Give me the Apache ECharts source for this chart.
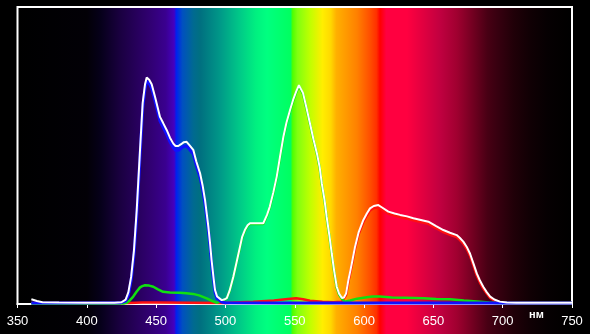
<!DOCTYPE html>
<html>
<head>
<meta charset="utf-8">
<style>
html,body{margin:0;padding:0;background:#000;}
#c{width:590px;height:334px;}
</style>
<script src="https://cdn.jsdelivr.net/npm/echarts@6/dist/echarts.min.js"></script>
</head>
<body>
<div id="c"></div>
<script>
// X axis tick labels (nm)
const xTicks = [350, 400, 450, 500, 550, 600, 650, 700, 750];
const unitLabel = 'нм';

// White (total) curve
const whiteWl = [360,364,368,380,400,420,425,428,430,432,434,436,438.4,440.3,442,443.2,445,446.8,449.2,452.8,455,457.6,460,462.4,464,466,468,470,472,474,476.8,479,481.7,483.5,485.3,487.7,489,490,491.5,492.5,494,497.3,499,501,503,505.7,508,510.5,512,514,516,517.7,522,527.3,530,532,534.5,537,539.5,541.8,544,546.6,549,551,553,556,558.5,561,563.5,566,568,569.5,571.5,573,575,576.7,578.5,580.3,582,584,585.5,587,588.7,590,591.5,593.5,596,599.5,602,604.3,607,610.3,613,617.5,622,626,631,635.6,641,646.4,652,657.2,662,666.8,669,671.6,674,676.4,679,681.3,683.5,686,688.5,691,694,698,703,710,750];
const whiteVal = [1.6,1.0,0.6,0.5,0.4,0.4,0.6,1.5,4,9.2,18,31.6,52,67.7,74,76.3,75.5,74,69.8,63,61,58.6,56,54,53.2,53.2,53.8,54.5,54.6,53.5,51.9,48,44,40,35,26,20,14.8,8.5,4.7,2.5,1.3,1.5,2,4.5,9.2,14,19.3,22.5,24.9,26.5,27.2,27.2,27.2,30,32.8,37.5,42.9,50,56.3,61,65.3,69,71.5,73.7,71,66,60.8,55.5,50.7,46,40.6,35,29.4,23,17,11,5.8,3.5,2,2.2,3.5,8.1,11,14.5,19.3,24,28.3,30.5,32.2,33,33.3,32.5,31.1,30.5,30,29.5,28.9,28.3,27.7,26.2,24.9,24,23.2,22.3,21,19.3,17,13.5,10.3,8,5.8,4,2.5,1.5,0.8,0.5,0.4,0.4];

// Blue channel
const blueWl = [360,424,428,430,432,434,436,438.4,440.3,442,443.2,445,446.8,449.2,452.8,455,457.6,460,462.4,464,466,468,470,472,474,476.8,479,481.7,483.5,485.3,487.7,489,490,491.5,492.5,494,497.3,500,540,600,750];
const blueVal = [0.3,0.4,1.0,3.0,8.0,16.5,29.5,50,66,72.5,75,74.3,72.6,68.4,61.6,59.6,57.2,54.6,52.6,51.8,51.8,52.4,53.1,53.2,52.1,50.5,46.6,42.6,38.6,33.6,24.8,19,13.8,7.6,3.9,1.8,0.7,0.4,0.3,0.3,0.3];

// Green channel
const greenWl = [360,427,428.8,431,433.5,436,438.4,440,442,445,448,451,455,460,467,472,476.6,481,486.5,490,493.7,497.3,499,501,503,505.7,508,510.5,512,514,516,517.7,522,527.3,530,532,534.5,537,539.5,541.8,544,546.6,549,551,553,556,558.5,561,563.5,566,568,569.5,571.5,573,575,576.7,578.5,580.3,582,584,586,590,595,602,606,611.5,620,630,642.8,652,662,672,683.7,690,695.7,750];
const greenVal = [0.2,0.2,0.4,1.2,2.5,4.2,5.6,6.0,6.3,6.2,5.8,5.0,4.1,3.9,3.8,3.6,3.4,2.9,1.9,1.1,0.4,1.1,1.4,1.9,4.3,9,13.8,19,22.2,24.6,26.2,26.9,26.9,26.9,29.7,32.5,37.2,42.6,49.7,56,60.7,65,68.7,71.2,73.4,70.7,65.7,60.5,55.2,50.4,45.7,40.3,34.7,29.1,22.7,16.7,10.7,5.5,3.2,1.7,0.8,1.2,1.8,2.3,2.5,2.5,2.2,2.1,1.9,1.7,1.6,1.2,0.8,0.5,0.3,0.3];

// Red channel
const redWl = [360,430,440,450,500,506,520,535,545,551,556,561,570,578,584,587,588.7,590,591.5,593.5,596,599.5,602,604.3,607,610.3,613,617.5,622,626,631,635.6,641,646.4,652,657.2,662,666.8,669,671.6,674,676.4,679,681.3,683.5,686,688.5,691,694,698,703,750];
const redVal = [0.3,0.3,0.5,0.5,0.3,0.5,0.8,1.2,1.7,1.9,1.6,1.1,0.8,0.6,0.8,3.0,7.5,10.4,13.9,18.7,23.4,27.6,29.8,31.5,32.3,32.6,31.8,30.4,29.8,29.3,28.8,28.2,27.6,27,25.5,24.2,23.3,22.5,21.6,20.3,18.6,16.3,12.8,9.6,7.3,5.2,3.5,2.0,1.1,0.5,0.3,0.3];

// Spectrum background colour stops (wavelength, colour)
const specWl = [350,400,410,424,445,457,463,464.5,469,477,482,496,510,522,530,547,548.5,552,561,570,576,580,595,604,609,611.5,616,631,643,655,667,679,689,696,708,720,732,744,750];
const specCol = ['#000000','#020006','#06001a','#1a0040','#300070','#3a0090','#4500c0','#0020f0','#0050c0','#006a90','#007080','#009888','#00c888','#00f080','#00ff80','#00ff60','#50ff00','#80ff10','#c0ff00','#ffee00','#ffd800','#ffb000','#ff8000','#ff5000','#ff3000','#ff0000','#ff0040','#ff0040','#e00040','#c00040','#a00030','#700020','#480014','#380010','#200008','#100004','#060002','#020000','#000000'];

const toPairs = (a, b) => a.map((x, i) => [x, b[i]]);

const chart = echarts.init(document.getElementById('c'), null, {renderer: 'canvas'});

const xMin = 350, xMax = 750;
const gridL = 17.5, gridR = 18, gridT = 7, gridB = 30;
const W = 590, H = 334;

const stops = specWl.map((w, i) => ({offset: (w - xMin) / (xMax - xMin), color: specCol[i]}));

function line(name, wl, val, color, width, z) {
  return {
    name, type: 'line', data: toPairs(wl, val), showSymbol: false, symbol: 'none',
    smooth: false, z: z, animation: false,
    lineStyle: {color: color, width: width}
  };
}

chart.setOption({
  backgroundColor: '#000',
  animation: false,
  grid: {left: gridL, right: gridR, top: gridT, bottom: gridB, show: true, borderColor: '#ffffff', borderWidth: 2, backgroundColor: 'transparent', z: 3},
  xAxis: {
    type: 'value', min: xMin, max: xMax, interval: 50,
    axisLine: {show: true, lineStyle: {color: '#ffffff', width: 2}},
    axisTick: {show: true, inside: false, length: 4, lineStyle: {color: '#ffffff', width: 1}},
    axisLabel: {color: '#ffffff', fontSize: 13, fontFamily: 'Liberation Sans, Arial, sans-serif', margin: 11,
      formatter: v => xTicks.includes(v) ? String(v) : ''},
    splitLine: {show: false}
  },
  yAxis: {type: 'value', min: 0, max: 100, show: false, splitLine: {show: false}},
  graphic: [
    {type: 'rect', z: -100, silent: true,
      shape: {x: gridL, y: gridT, width: W - gridL - gridR, height: H - gridT},
      style: {fill: new echarts.graphic.LinearGradient(0, 0, 1, 0, stops)}},
    {type: 'text', z: 100, silent: true, left: 529, top: 309,
      style: {text: unitLabel, fill: '#ffffff', fontSize: 11, fontWeight: 'bold', fontFamily: 'Liberation Sans, Arial, sans-serif'}}
  ],
  series: [
    line('red', redWl, redVal, '#ff1010', 2.5, 4),
    line('green', greenWl, greenVal, '#10e010', 2.5, 5),
    line('blue', blueWl, blueVal, '#1010ff', 3, 6),
    line('white', whiteWl, whiteVal, '#ffffff', 2, 10)
  ]
});
</script>
</body>
</html>
